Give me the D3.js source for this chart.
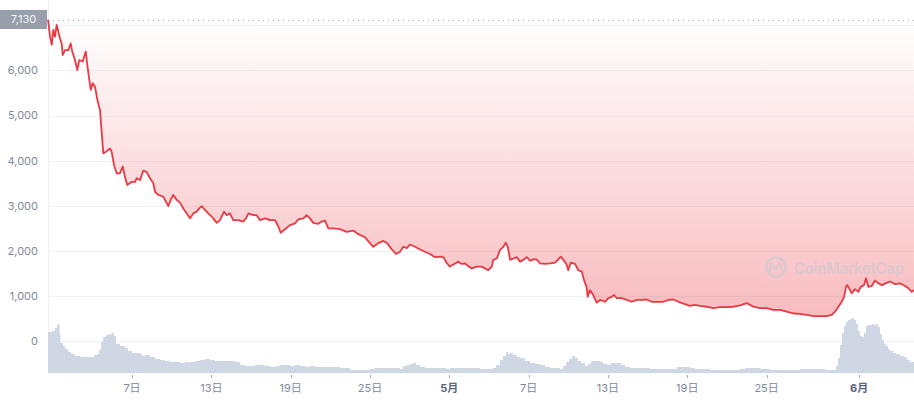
<!DOCTYPE html>
<html><head><meta charset="utf-8">
<script src="https://cdn.jsdelivr.net/npm/d3@7"></script>
<style>
html,body{margin:0;padding:0;background:#fff;}
svg{display:block;font-family:Inter,"Noto Sans CJK SC",sans-serif;}
</style></head>
<body><svg id="chart" width="914" height="400"></svg>
<script>
// ---- data (days since 1 April, price in USD) ----
const priceDays = [-0.35,-0.20,-0.07,0.05,0.18,0.30,0.43,0.55,0.68,0.76,0.93,1.18,1.36,1.48,1.69,1.86,2.01,2.27,2.50,2.62,2.77,2.88,3.03,3.20,3.38,3.58,3.71,3.83,4.03,4.34,4.46,4.64,4.84,5.09,5.30,5.47,5.64,5.98,6.23,6.36,6.61,6.85,7.11,7.36,7.61,7.74,7.99,8.37,8.75,8.93,9.12,9.38,9.63,9.88,10.14,10.39,10.64,10.89,11.09,11.27,11.52,11.77,12.03,12.41,12.66,12.96,13.16,13.41,13.66,14.04,14.42,14.62,14.80,15.18,15.43,15.68,16.06,16.44,16.82,17.07,17.25,17.57,17.95,18.33,18.58,18.96,19.21,19.46,19.71,20.09,20.35,20.60,20.85,21.23,21.73,22.24,22.74,23.12,23.62,24.00,24.25,24.63,25.01,25.31,25.57,25.97,26.27,26.52,26.78,27.03,27.41,27.79,28.16,28.54,28.92,29.30,29.55,29.80,30.05,30.43,30.68,30.94,31.19,31.44,31.70,32.07,32.45,32.70,32.95,33.21,33.33,33.59,33.84,34.09,34.27,34.42,34.60,34.85,35.10,35.35,35.60,35.86,36.11,36.36,36.61,36.86,37.24,37.62,38.00,38.25,38.43,38.63,38.88,39.00,39.19,39.51,39.76,40.02,40.19,40.39,40.47,40.64,40.89,41.15,41.40,41.78,42.03,42.29,42.46,42.67,43.04,43.42,43.80,44.18,44.56,44.93,45.31,45.81,46.19,46.57,46.95,47.33,47.83,48.21,48.58,48.96,49.47,49.97,50.48,50.98,51.48,51.99,52.50,53.00,53.50,54.01,54.51,55.02,55.52,56.03,56.53,57.04,57.54,58.05,58.55,58.93,59.18,59.43,59.68,59.86,60.01,60.11,60.31,60.44,60.69,60.94,61.12,61.37,61.52,61.70,61.95,62.20,62.45,62.71,63.09,63.34,63.72,64.10,64.48,64.72,64.98,65.15];
const priceValues = [7130,6750,6570,6900,6750,7010,6860,6710,6600,6340,6450,6450,6600,6420,6230,6010,6230,6200,6420,6120,5790,5570,5720,5640,5350,5120,4610,4160,4200,4270,4200,3900,3720,3720,3870,3640,3460,3530,3530,3610,3570,3780,3750,3610,3500,3310,3240,3200,2990,3130,3240,3130,3070,2940,2830,2720,2830,2870,2940,2990,2910,2830,2760,2620,2680,2870,2790,2830,2680,2680,2650,2720,2830,2790,2790,2680,2720,2680,2680,2540,2400,2480,2570,2610,2700,2720,2790,2720,2620,2600,2650,2670,2500,2500,2480,2420,2450,2370,2300,2170,2090,2170,2220,2170,2060,1930,1980,2090,2060,2140,2090,2030,1980,1930,1860,1870,1860,1730,1650,1720,1760,1710,1720,1660,1610,1650,1650,1610,1570,1650,1800,1830,2020,2090,2180,2090,1800,1830,1860,1760,1800,1860,1780,1810,1810,1720,1710,1720,1740,1810,1870,1800,1690,1570,1740,1710,1570,1540,1350,1190,980,1130,1020,850,910,870,950,980,1020,950,950,910,870,910,910,920,870,870,870,910,920,870,820,780,800,780,760,730,750,750,760,790,840,760,730,730,690,690,650,610,600,580,550,550,550,580,650,760,870,980,1200,1240,1130,1060,1150,1090,1200,1240,1390,1200,1220,1340,1280,1240,1290,1320,1260,1280,1220,1170,1090,1130];
const volumeDays = [-0.35,-0.05,0.18,0.33,0.44,0.52,0.59,0.78,0.93,1.16,1.39,1.69,2.07,2.45,2.82,3.12,3.35,3.50,3.66,3.81,4.03,4.26,4.49,4.64,4.79,5.09,5.47,5.70,6.00,6.30,6.61,6.76,6.98,7.36,7.74,8.12,8.50,8.87,9.25,9.63,10.01,10.39,10.76,11.14,11.52,11.90,12.28,12.66,13.03,13.41,13.79,14.17,14.55,14.93,15.30,15.68,16.06,16.44,16.82,17.20,17.57,17.95,18.33,18.71,19.09,19.47,19.84,20.22,20.98,21.73,22.11,22.49,22.87,23.25,23.62,24.00,24.38,24.76,25.14,25.52,25.90,26.27,26.50,26.80,27.03,27.26,27.48,27.79,28.16,28.54,29.30,29.75,30.05,30.81,31.56,32.32,33.08,33.31,33.53,33.84,34.06,34.29,34.44,34.59,34.82,35.12,35.35,35.73,36.11,36.49,36.86,37.24,37.62,38.00,38.38,38.60,38.83,39.06,39.29,39.51,39.74,39.97,40.27,40.50,40.72,41.03,41.40,41.63,41.93,42.23,42.53,42.76,42.99,43.29,43.67,44.43,45.18,45.94,46.70,47.23,47.68,48.21,48.58,48.96,49.72,50.48,51.23,51.99,52.37,52.74,53.12,53.50,54.26,55.02,55.77,56.53,57.29,58.05,58.42,59.10,59.25,59.40,59.55,59.70,59.86,60.01,60.16,60.31,60.46,60.61,60.76,60.91,61.06,61.21,61.37,61.52,61.67,61.82,61.97,62.12,62.27,62.43,62.58,62.73,62.88,63.03,63.18,63.33,63.56,63.78,64.08,64.38,64.61,64.83,65.15];
const volumeValues = [41,42,45,48,49,39,30,27,24,21,19,17,16,16,16,18,19,23,31,36,38,39,40,37,29,27,25,22,20,20,19,17,18,16,14,13,12,11,11,10,11,11,12,13,14,13,12,12,12,12,11,8,7,7,8,8,7,6,7,8,8,7,8,7,6,7,6,6,6,5,5,3,3,3,3,4,5,5,5,5,5,4,7,8,9,10,8,6,5,5,5,4,5,5,5,4,4,5,8,13,17,21,19,20,18,16,15,12,10,9,8,6,5,5,4,7,11,14,17,15,12,10,7,9,12,12,11,9,8,10,10,10,8,6,5,5,4,4,4,6,6,5,4,4,3,3,3,4,5,5,5,4,3,3,3,4,4,4,3,3,7,15,28,40,47,51,53,54,55,53,49,42,37,36,40,47,48,48,49,48,49,46,39,33,29,27,24,22,20,19,17,16,13,11,9];
const yTickValues = [0,1000,2000,3000,4000,5000,6000,7000];
const yLabelValues = [0,1000,2000,3000,4000,5000,6000]; // 7,000 sits behind the 7,130 marker
const xTickDates = ["2021-04-07","2021-04-13","2021-04-19","2021-04-25","2021-05-01","2021-05-07","2021-05-13","2021-05-19","2021-05-25","2021-06-01"];
const xTickLabels = ["7日","13日","19日","25日","5月","7日","13日","19日","25日","6月"];
const baselinePrice = 7130;
const baselineLabel = "7,130";

// ---- layout ----
const left = 48, right = 914;
const base = Date.UTC(2021, 3, 1);
const toDate = d => new Date(base + d * 864e5);
const svg = d3.select("#chart");

const x = d3.scaleUtc().domain([toDate(-0.354), toDate(65.15)]).range([left, right]);
const y = d3.scaleLinear().domain([0, 7000]).range([341, 25.4]);
const yv = d3.scaleLinear().domain([0, 55]).range([373, 318]);

const defs = svg.append("defs");
const grad = defs.append("linearGradient").attr("id","fillGrad")
  .attr("gradientUnits","userSpaceOnUse").attr("x1",0).attr("x2",0)
  .attr("y1", y(baselinePrice)).attr("y2", y(550));
grad.append("stop").attr("offset","0%").attr("stop-color","#ea3943").attr("stop-opacity",0);
grad.append("stop").attr("offset","100%").attr("stop-color","#ea3943").attr("stop-opacity",0.34);

// grid
svg.append("g").selectAll("line").data(yTickValues).join("line")
  .attr("x1", left).attr("x2", right)
  .attr("y1", d => Math.round(y(d))+0.5).attr("y2", d => Math.round(y(d))+0.5)
  .attr("stroke", "#eff2f5").attr("stroke-width", 1);
svg.append("line").attr("x1", left+0.5).attr("x2", left+0.5).attr("y1", 0).attr("y2", 373)
  .attr("stroke","#eff2f5");

const priceData = priceDays.map((d,i) => ({t: toDate(d), v: priceValues[i]}));
const volData = volumeDays.map((d,i) => ({t: toDate(d), v: volumeValues[i]}));

// volume
svg.append("path").datum(volData)
  .attr("d", d3.area().x(d => x(d.t)).y0(yv(0)).y1(d => yv(d.v)).curve(d3.curveStepAfter))
  .attr("fill", "#cfd6e4");

// fill area between line and baseline
svg.append("path").datum(priceData)
  .attr("d", d3.area().x(d => x(d.t)).y0(y(baselinePrice)).y1(d => y(d.v)))
  .attr("fill", "url(#fillGrad)");

// baseline dotted
svg.append("line").attr("x1", left).attr("x2", right)
  .attr("y1", Math.round(y(baselinePrice))+0.5).attr("y2", Math.round(y(baselinePrice))+0.5)
  .attr("stroke", "#a1a7bb").attr("stroke-dasharray","1,4");

// watermark
const wm = svg.append("g").attr("opacity", 0.55);
wm.append("circle").attr("cx", 776).attr("cy", 267).attr("r", 9.5)
  .attr("fill","none").attr("stroke","#c3cad6").attr("stroke-width",2.6);
wm.append("path").attr("d","M769.5,271 L771.5,263 L775.5,270 L779.5,263 L782,270")
  .attr("fill","none").attr("stroke","#c3cad6").attr("stroke-width",2.2).attr("stroke-linejoin","round").attr("stroke-linecap","round");
wm.append("text").attr("x", 794).attr("y", 274).text("CoinMarketCap")
  .attr("font-size", 16).attr("font-weight", 600).attr("fill", "#c3cad6")
  .attr("textLength", 110).attr("lengthAdjust", "spacingAndGlyphs");

// price line
svg.append("path").datum(priceData)
  .attr("d", d3.line().x(d => x(d.t)).y(d => y(d.v)))
  .attr("fill","none").attr("stroke","#ea3943").attr("stroke-width",1.8).attr("stroke-linejoin","round");

// y labels
svg.append("g").selectAll("text").data(yLabelValues).join("text")
  .attr("x", 38).attr("y", d => y(d)).attr("dy","0.35em").attr("text-anchor","end")
  .attr("font-size", 11).attr("fill", "#808a9d").text(d => d3.format(",")(d));

// baseline label box
svg.append("rect").attr("x",0).attr("y",10).attr("width",47).attr("height",19).attr("fill","#989eab");
svg.append("text").attr("x",23.5).attr("y",23).attr("text-anchor","middle")
  .attr("font-size",11).attr("fill","#f4f6f9").text(baselineLabel);

// x axis
const xg = svg.append("g");
const xt = xTickDates.map((d,i) => ({t: new Date(d + "T00:00:00Z"), label: xTickLabels[i]}));
xg.selectAll("line").data(xt).join("line")
  .attr("x1", d => Math.round(x(d.t))+0.5).attr("x2", d => Math.round(x(d.t))+0.5)
  .attr("y1", 375).attr("y2", 378).attr("stroke","#a6b0c3");
xg.selectAll("text").data(xt).join("text")
  .attr("x", d => x(d.t)).attr("y", 392).attr("text-anchor","middle")
  .attr("font-size", 11)
  .attr("font-weight", d => d.label.endsWith("月") ? 700 : 400)
  .attr("fill", d => d.label.endsWith("月") ? "#58667e" : "#808a9d")
  .text(d => d.label);
</script></body></html>
